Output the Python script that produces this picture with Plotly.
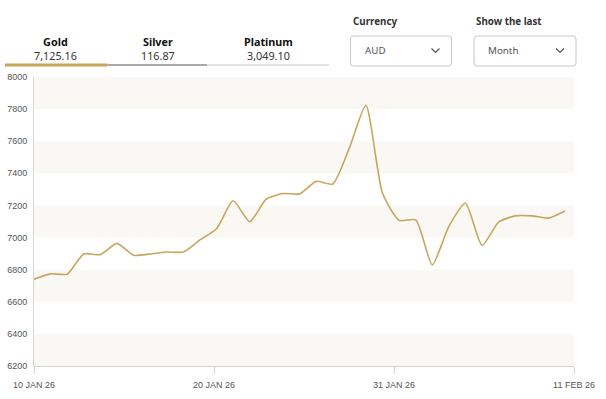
import plotly.graph_objects as go

# ---------------- data ----------------
gold_values = [6741, 6774, 6772, 6898, 6894, 6964, 6890, 6898, 6910, 6910,
               6985, 7055, 7229, 7099, 7240, 7274, 7272, 7350, 7334, 7557,
               7824, 7277, 7107, 7110, 6830, 7070, 7214, 6952, 7096, 7135,
               7135, 7121, 7165]
x_index = list(range(len(gold_values)))
x_tick_labels = ["10 JAN 26", "20 JAN 26", "31 JAN 26", "11 FEB 26"]
y_ticks = [6200, 6400, 6600, 6800, 7000, 7200, 7400, 7600, 7800, 8000]
metals = ["Gold", "Silver", "Platinum"]
metal_prices = ["7,125.16", "116.87", "3,049.10"]
select_labels = ["Currency", "Show the last"]
select_values = ["AUD", "Month"]

# ---------------- layout helpers ----------------
W, H = 606, 399
L, R, T, B = 34, 32, 77, 33
x_end = len(gold_values) - 1 + 0.54
x_range = [0, x_end]
tick_pos = [x_end * k / (len(x_tick_labels) - 1) for k in range(len(x_tick_labels))]

def px(x):
    return (x - L) / (W - L - R)

def py(y):
    return (H - B - y) / (H - T - B)

shapes = []
# alternating bands
for i in range(0, len(y_ticks) - 1, 2):
    shapes.append(dict(type="rect", xref="paper", yref="y", x0=0, x1=1,
                       y0=y_ticks[i], y1=y_ticks[i + 1],
                       fillcolor="#faf8f4", line=dict(width=0), layer="below"))

# tab underlines
tab_x = [(5, 107.5), (107.5, 207), (207, 329)]
tab_style = [("#c9a55c", 3), ("#8c8c8c", 1.6), ("#c8c8c8", 1.2)]
for (x0, x1), (c, w) in zip(tab_x, tab_style):
    shapes.append(dict(type="line", xref="paper", yref="paper",
                       x0=px(x0), x1=px(x1), y0=py(65), y1=py(65),
                       line=dict(color=c, width=w)))

# dropdown boxes
box_x = [(350.5, 451.5), (474, 576)]
def rrect(x0, y0, x1, y1, r=3):
    X = lambda v: px(v)
    Y = lambda v: py(v)
    return (f"M {X(x0+r)} {Y(y0)} L {X(x1-r)} {Y(y0)} Q {X(x1)} {Y(y0)} {X(x1)} {Y(y0+r)} "
            f"L {X(x1)} {Y(y1-r)} Q {X(x1)} {Y(y1)} {X(x1-r)} {Y(y1)} "
            f"L {X(x0+r)} {Y(y1)} Q {X(x0)} {Y(y1)} {X(x0)} {Y(y1-r)} "
            f"L {X(x0)} {Y(y0+r)} Q {X(x0)} {Y(y0)} {X(x0+r)} {Y(y0)} Z")

for (x0, x1) in box_x:
    shapes.append(dict(type="path", xref="paper", yref="paper",
                       path=rrect(x0, 36, x1, 66),
                       line=dict(color="#c3c8d2", width=1), fillcolor="white"))
    cx = x1 - 16
    shapes.append(dict(type="path", xref="paper", yref="paper",
                       path=f"M {px(cx-4)} {py(48.5)} L {px(cx)} {py(52.5)} L {px(cx+4)} {py(48.5)}",
                       line=dict(color="#555555", width=1.2)))

annotations = []
tab_centers = [55.5, 157.5, 268]
for name, price, cx in zip(metals, metal_prices, tab_centers):
    annotations.append(dict(text=f"<b>{name}</b><br><span style='color:#333333'>{price}</span>",
                            x=px(cx), y=py(48), xref="paper", yref="paper",
                            showarrow=False, xanchor="center", yanchor="middle", borderpad=0,
                            font=dict(family="Noto Sans", size=10.8, color="#111111")))

for lab, val, (x0, x1) in zip(select_labels, select_values, box_x):
    annotations.append(dict(text=f"<b>{lab}</b>", x=px(x0), y=py(21.5), xref="paper", yref="paper",
                            showarrow=False, xanchor="left", yanchor="middle",
                            font=dict(family="Noto Sans", size=9.8, color="#333333")))
    annotations.append(dict(text=val, x=px(x0 + 12), y=py(51), xref="paper", yref="paper",
                            showarrow=False, xanchor="left", yanchor="middle",
                            font=dict(family="Noto Sans", size=9.8, color="#555555")))

fig = go.Figure()
fig.add_trace(go.Scatter(x=x_index, y=gold_values, mode="lines",
                         line=dict(color="#c9a55c", width=1.6, shape="spline", smoothing=0.6),
                         hoverinfo="skip", showlegend=False))

fig.update_layout(
    width=W, height=H,
    margin=dict(l=L, r=R, t=T, b=B, pad=0, autoexpand=False),
    paper_bgcolor="white", plot_bgcolor="white",
    shapes=shapes, annotations=annotations,
    xaxis=dict(range=x_range, tickvals=tick_pos, ticktext=x_tick_labels,
               showgrid=False, zeroline=False, showline=True, linecolor="#d4d4d4", linewidth=1,
               ticks="outside", ticklen=7, tickcolor="#d4d4d4", tickwidth=1,
               ticklabelstandoff=3, automargin=False,
               tickfont=dict(family="Liberation Sans", size=9, color="#555555"),
               fixedrange=True),
    yaxis=dict(range=[y_ticks[0], y_ticks[-1]], tickvals=y_ticks,
               showgrid=False, zeroline=False, showline=True, linecolor="#d4d4d4", linewidth=1,
               ticks="", ticklabelstandoff=4, automargin=False,
               tickfont=dict(family="Liberation Sans", size=9, color="#555555"),
               fixedrange=True),
)

fig.write_html("out.html", config={"displayModeBar": False},
               post_script="document.body.style.margin='0px';")
